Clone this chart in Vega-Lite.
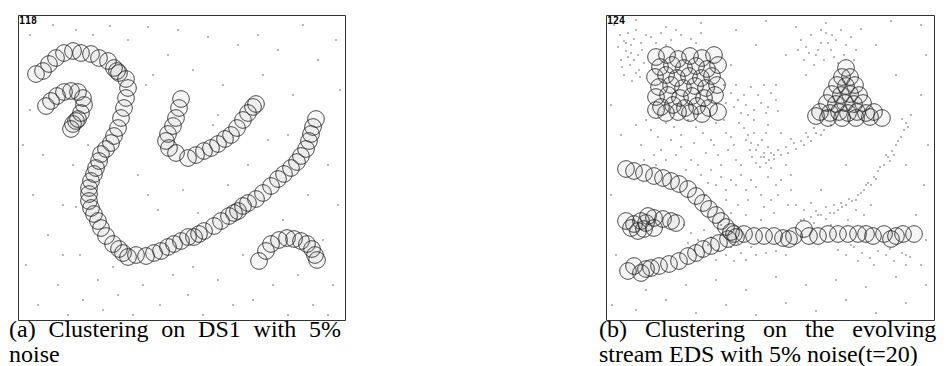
{
  "$schema": "https://vega.github.io/schema/vega-lite/v6.json",
  "padding": {"left": 8, "top": 14, "right": 0, "bottom": 0},
  "autosize": {"type": "pad"},
  "background": "white",
  "spacing": 261,
  "bounds": "flush",
  "config": {
    "view": {"stroke": "#333", "strokeWidth": 1},
    "title": {"orient": "bottom", "anchor": "start", "font": "Liberation Serif", "fontSize": 24, "fontWeight": "normal", "color": "#000", "lineHeight": 25, "baseline": "alphabetic", "offset": -2}
  },
  "datasets": {
    "a_circ": [
      {"x":18,"y":59},{"x":25,"y":56},{"x":31,"y":49},{"x":38,"y":43},{"x":46,"y":38},{"x":55,"y":36},{"x":63,"y":38},{"x":73,"y":39},{"x":81,"y":43},{"x":90,"y":46},{"x":96,"y":53},{"x":99,"y":56},{"x":101,"y":58},{"x":108,"y":64},{"x":110,"y":73},{"x":108,"y":83},{"x":106,"y":93},{"x":103,"y":103},{"x":100,"y":113},{"x":96,"y":121},{"x":93,"y":128},{"x":88,"y":134},{"x":83,"y":139},{"x":81,"y":146},{"x":78,"y":153},{"x":76,"y":159},{"x":73,"y":166},{"x":71,"y":173},{"x":71,"y":179},{"x":71,"y":186},{"x":73,"y":193},{"x":76,"y":199},{"x":80,"y":206},{"x":83,"y":213},{"x":88,"y":221},{"x":95,"y":229},{"x":101,"y":234},{"x":105,"y":238},{"x":110,"y":242},{"x":118,"y":240},{"x":128,"y":241},{"x":136,"y":238},{"x":143,"y":236},{"x":150,"y":232},{"x":156,"y":229},{"x":163,"y":226},{"x":170,"y":222},{"x":176,"y":222},{"x":181,"y":219},{"x":186,"y":216},{"x":196,"y":211},{"x":203,"y":206},{"x":211,"y":201},{"x":216,"y":198},{"x":220,"y":196},{"x":225,"y":191},{"x":230,"y":188},{"x":238,"y":184},{"x":245,"y":178},{"x":253,"y":171},{"x":260,"y":164},{"x":266,"y":159},{"x":273,"y":153},{"x":279,"y":147},{"x":283,"y":141},{"x":288,"y":134},{"x":291,"y":126},{"x":293,"y":119},{"x":295,"y":112},{"x":298,"y":104},
      {"x":28,"y":91},{"x":33,"y":86},{"x":39,"y":81},{"x":46,"y":77},{"x":53,"y":76},{"x":60,"y":77},{"x":65,"y":83},{"x":66,"y":90},{"x":63,"y":98},{"x":60,"y":104},{"x":55,"y":109},{"x":53,"y":114},{"x":58,"y":106},
      {"x":163,"y":84},{"x":161,"y":93},{"x":158,"y":103},{"x":155,"y":111},{"x":150,"y":119},{"x":148,"y":126},{"x":151,"y":133},{"x":158,"y":138},{"x":170,"y":143},{"x":178,"y":140},{"x":186,"y":136},{"x":193,"y":133},{"x":200,"y":129},{"x":207,"y":124},{"x":213,"y":120},{"x":219,"y":113},{"x":225,"y":105},{"x":230,"y":98},{"x":235,"y":92},{"x":238,"y":89},
      {"x":241,"y":246},{"x":248,"y":236},{"x":253,"y":229},{"x":261,"y":225},{"x":269,"y":223},{"x":276,"y":224},{"x":283,"y":226},{"x":289,"y":229},{"x":294,"y":234},{"x":297,"y":240},{"x":299,"y":245}
    ],
    "a_noise": [
      {"x":5,"y":130},{"x":8,"y":250},{"x":12,"y":20},{"x":15,"y":180},{"x":20,"y":290},{"x":25,"y":140},{"x":30,"y":220},{"x":35,"y":10},{"x":40,"y":270},{"x":45,"y":190},{"x":50,"y":300},{"x":55,"y":150},{"x":58,"y":15},{"x":62,"y":240},{"x":65,"y":285},{"x":70,"y":130},{"x":75,"y":20},{"x":80,"y":265},{"x":85,"y":295},{"x":92,"y":11},{"x":128,"y":70},{"x":100,"y":280},{"x":110,"y":25},{"x":115,"y":300},{"x":120,"y":160},{"x":125,"y":270},{"x":130,"y":12},{"x":135,"y":60},{"x":140,"y":195},{"x":142,"y":290},{"x":150,"y":40},{"x":155,"y":260},{"x":160,"y":15},{"x":165,"y":175},{"x":170,"y":280},{"x":175,"y":55},{"x":180,"y":198},{"x":185,"y":300},{"x":190,"y":22},{"x":195,"y":110},{"x":200,"y":265},{"x":205,"y":70},{"x":210,"y":170},{"x":215,"y":290},{"x":220,"y":30},{"x":225,"y":240},{"x":230,"y":150},{"x":235,"y":285},{"x":240,"y":20},{"x":245,"y":60},{"x":250,"y":125},{"x":255,"y":270},{"x":260,"y":35},{"x":265,"y":205},{"x":270,"y":300},{"x":275,"y":80},{"x":280,"y":260},{"x":285,"y":10},{"x":290,"y":180},{"x":295,"y":290},{"x":300,"y":45},{"x":305,"y":225},{"x":310,"y":150},{"x":315,"y":270},{"x":318,"y":25},{"x":320,"y":190},{"x":322,"y":75},{"x":12,"y":95},{"x":58,"y":192},{"x":130,"y":180},{"x":200,"y":100},{"x":270,"y":120},{"x":310,"y":300},{"x":95,"y":252},{"x":175,"y":252},{"x":45,"y":240}
    ],
    "b_circ": [
      {"x":50,"y":42},{"x":61,"y":40},{"x":72,"y":44},{"x":84,"y":41},{"x":96,"y":43},{"x":108,"y":40},
      {"x":54,"y":52},{"x":66,"y":50},{"x":78,"y":53},{"x":90,"y":51},{"x":101,"y":54},{"x":112,"y":50},
      {"x":49,"y":62},{"x":60,"y":60},{"x":71,"y":63},{"x":83,"y":61},{"x":95,"y":63},{"x":106,"y":61},
      {"x":53,"y":72},{"x":65,"y":70},{"x":77,"y":73},{"x":89,"y":71},{"x":100,"y":73},{"x":111,"y":70},
      {"x":50,"y":82},{"x":62,"y":80},{"x":74,"y":83},{"x":86,"y":81},{"x":98,"y":83},{"x":109,"y":80},
      {"x":55,"y":92},{"x":67,"y":90},{"x":79,"y":93},{"x":91,"y":91},{"x":103,"y":93},{"x":112,"y":97},
      {"x":60,"y":98},{"x":84,"y":98},{"x":72,"y":97},{"x":96,"y":99},{"x":50,"y":95},
      {"x":240,"y":53},{"x":236,"y":62},{"x":244,"y":62},{"x":231,"y":70},{"x":240,"y":71},{"x":249,"y":70},{"x":226,"y":79},{"x":235,"y":80},{"x":244,"y":79},{"x":253,"y":80},{"x":221,"y":88},{"x":230,"y":89},{"x":239,"y":88},{"x":248,"y":89},{"x":257,"y":88},{"x":214,"y":97},{"x":224,"y":98},{"x":233,"y":97},{"x":242,"y":98},{"x":251,"y":97},{"x":260,"y":98},{"x":210,"y":101},{"x":222,"y":103},{"x":236,"y":103},{"x":250,"y":103},{"x":264,"y":102},{"x":276,"y":103},{"x":268,"y":97},
      {"x":20,"y":154},{"x":28,"y":156},{"x":38,"y":158},{"x":48,"y":161},{"x":57,"y":163},{"x":65,"y":166},{"x":73,"y":169},{"x":82,"y":174},{"x":90,"y":181},{"x":97,"y":188},{"x":103,"y":194},{"x":110,"y":200},{"x":115,"y":206},{"x":120,"y":212},{"x":125,"y":217},
      {"x":20,"y":206},{"x":25,"y":213},{"x":32,"y":216},{"x":28,"y":209},{"x":35,"y":206},{"x":38,"y":214},{"x":42,"y":201},{"x":48,"y":203},{"x":48,"y":213},{"x":57,"y":204},{"x":65,"y":206},{"x":70,"y":208},{"x":40,"y":208},
      {"x":128,"y":219},{"x":138,"y":219},{"x":148,"y":221},{"x":158,"y":221},{"x":168,"y":221},{"x":177,"y":223},{"x":183,"y":224},{"x":188,"y":221},{"x":198,"y":214},{"x":203,"y":221},{"x":212,"y":221},{"x":222,"y":219},{"x":232,"y":219},{"x":242,"y":219},{"x":252,"y":219},{"x":260,"y":219},{"x":267,"y":221},{"x":278,"y":219},{"x":285,"y":224},{"x":290,"y":221},{"x":297,"y":219},{"x":308,"y":219},
      {"x":22,"y":256},{"x":28,"y":251},{"x":35,"y":258},{"x":40,"y":254},{"x":45,"y":253},{"x":53,"y":251},{"x":63,"y":249},{"x":73,"y":246},{"x":82,"y":241},{"x":90,"y":238},{"x":97,"y":234},{"x":105,"y":231},{"x":113,"y":228},{"x":122,"y":224},{"x":130,"y":222}
    ],
    "b_noise": [
      {"x":8,"y":10},{"x":30,"y":5},{"x":60,"y":12},{"x":95,"y":8},{"x":130,"y":15},{"x":160,"y":6},{"x":190,"y":12},{"x":220,"y":8},{"x":255,"y":14},{"x":285,"y":6},{"x":315,"y":10},
      {"x":5,"y":90},{"x":15,"y":120},{"x":5,"y":180},{"x":10,"y":240},{"x":6,"y":290},{"x":30,"y":295},{"x":60,"y":285},{"x":90,"y":298},{"x":120,"y":290},{"x":150,"y":300},{"x":180,"y":288},{"x":210,"y":296},{"x":240,"y":285},{"x":270,"y":298},{"x":300,"y":288},{"x":320,"y":270},
      {"x":40,"y":275},{"x":80,"y":270},{"x":110,"y":265},{"x":140,"y":275},{"x":170,"y":262},{"x":200,"y":270},{"x":230,"y":265},{"x":260,"y":272},{"x":290,"y":262},{"x":315,"y":250},
      {"x":320,"y":40},{"x":315,"y":80},{"x":322,"y":130},{"x":318,"y":170},{"x":310,"y":200},{"x":300,"y":150},{"x":290,"y":60},{"x":270,"y":30},{"x":180,"y":40},{"x":150,"y":30},{"x":125,"y":50},{"x":170,"y":70},{"x":200,"y":60},{"x":280,"y":140},{"x":260,"y":170},{"x":240,"y":150},{"x":215,"y":175},{"x":300,"y":240},{"x":320,"y":225},
      {"x":14,"y":20},{"x":18,"y":26},{"x":22,"y":18},{"x":25,"y":30},{"x":20,"y":36},{"x":28,"y":24},{"x":32,"y":40},{"x":15,"y":45},{"x":24,"y":50},{"x":30,"y":58},{"x":18,"y":60},{"x":35,"y":28},{"x":38,"y":48},{"x":12,"y":32},{"x":26,"y":66},{"x":34,"y":62},{"x":40,"y":20},{"x":22,"y":42},{"x":30,"y":15},{"x":36,"y":35},{"x":16,"y":52},{"x":28,"y":45},{"x":33,"y":55},{"x":20,"y":28},{"x":25,"y":38},
      {"x":45,"y":22},{"x":55,"y":18},{"x":65,"y":25},{"x":75,"y":20},{"x":85,"y":24},{"x":95,"y":18},{"x":50,"y":28},{"x":70,"y":15},{"x":90,"y":28},{"x":60,"y":30},
      {"x":118,"y":70},{"x":125,"y":78},{"x":132,"y":85},{"x":140,"y":90},{"x":148,"y":95},{"x":155,"y":88},{"x":162,"y":92},{"x":170,"y":85},{"x":128,"y":92},{"x":138,"y":80},{"x":145,"y":72},{"x":152,"y":80},{"x":160,"y":98},{"x":120,"y":88},{"x":135,"y":98},{"x":165,"y":78},{"x":172,"y":96},{"x":142,"y":100},{"x":130,"y":70},{"x":158,"y":70},
      {"x":195,"y":25},{"x":200,"y":32},{"x":205,"y":20},{"x":210,"y":40},{"x":215,"y":28},{"x":220,"y":18},{"x":225,"y":35},{"x":230,"y":25},{"x":235,"y":15},{"x":240,"y":30},{"x":245,"y":22},{"x":250,"y":35},{"x":198,"y":45},{"x":208,"y":50},{"x":218,"y":45},{"x":228,"y":42},{"x":212,"y":35},{"x":203,"y":38},{"x":222,"y":28},{"x":238,"y":40},{"x":248,"y":45},{"x":192,"y":35},{"x":215,"y":15},{"x":232,"y":48},{"x":226,"y":20},
      {"x":138,"y":113},{"x":142,"y":120},{"x":145,"y":128},{"x":150,"y":135},{"x":155,"y":142},{"x":160,"y":148},{"x":165,"y":153},{"x":140,"y":125},{"x":148,"y":118},{"x":152,"y":130},{"x":158,"y":138},{"x":163,"y":145},{"x":144,"y":135},{"x":156,"y":125},{"x":150,"y":148},{"x":162,"y":132},{"x":168,"y":140},{"x":146,"y":142},{"x":154,"y":152},{"x":160,"y":118},
      {"x":30,"y":110},{"x":45,"y":115},{"x":60,"y":108},{"x":75,"y":120},{"x":90,"y":112},{"x":105,"y":125},{"x":120,"y":118},{"x":35,"y":130},{"x":55,"y":135},{"x":70,"y":140},{"x":85,"y":145},{"x":100,"y":138},{"x":115,"y":150},{"x":130,"y":145},{"x":50,"y":150},{"x":65,"y":125},{"x":95,"y":160},{"x":110,"y":170},{"x":125,"y":165},{"x":140,"y":175},{"x":155,"y":180},{"x":170,"y":170},{"x":80,"y":155},{"x":120,"y":185},{"x":100,"y":180},{"x":135,"y":160},{"x":60,"y":145},{"x":88,"y":128},{"x":112,"y":140},{"x":128,"y":130},{"x":145,"y":165},{"x":165,"y":185},{"x":175,"y":165},{"x":105,"y":155},{"x":120,"y":175},
      {"x":40,"y":105},{"x":52,"y":122},{"x":68,"y":112},{"x":82,"y":105},{"x":97,"y":118},{"x":110,"y":108},{"x":125,"y":122},{"x":38,"y":145},{"x":48,"y":140},{"x":75,"y":132},{"x":102,"y":168},{"x":115,"y":162},{"x":130,"y":170},{"x":142,"y":185},{"x":158,"y":192},{"x":172,"y":180},{"x":125,"y":198},{"x":140,"y":200},{"x":155,"y":205},{"x":168,"y":198},{"x":182,"y":190},{"x":185,"y":175},{"x":92,"y":150},{"x":108,"y":130},{"x":122,"y":135},{"x":135,"y":150},{"x":118,"y":105},{"x":133,"y":108},{"x":148,"y":105},{"x":162,"y":110},{"x":175,"y":118},{"x":180,"y":150},{"x":185,"y":160},{"x":132,"y":190},{"x":150,"y":172},{"x":162,"y":162},
      {"x":225,"y":110},{"x":218,"y":115},{"x":210,"y":118},{"x":202,"y":122},{"x":195,"y":126},{"x":188,"y":128},{"x":180,"y":132},{"x":172,"y":135},{"x":165,"y":138},{"x":158,"y":142},{"x":215,"y":120},{"x":205,"y":126},{"x":198,"y":130},{"x":190,"y":134},{"x":182,"y":138},{"x":175,"y":140},{"x":168,"y":144},{"x":200,"y":118},{"x":185,"y":124},{"x":208,"y":113},
      {"x":305,"y":100},{"x":300,"y":108},{"x":298,"y":115},{"x":295,"y":122},{"x":290,"y":130},{"x":286,"y":136},{"x":282,"y":142},{"x":278,"y":150},{"x":272,"y":156},{"x":268,"y":162},{"x":262,"y":168},{"x":258,"y":175},{"x":252,"y":180},{"x":246,"y":186},{"x":240,"y":190},{"x":232,"y":195},{"x":224,"y":198},{"x":215,"y":200},{"x":205,"y":202},{"x":198,"y":204},{"x":302,"y":112},{"x":292,"y":126},{"x":284,"y":146},{"x":274,"y":152},{"x":265,"y":170},{"x":255,"y":178},{"x":243,"y":184},{"x":236,"y":192},{"x":228,"y":190},{"x":210,"y":196},{"x":296,"y":104},{"x":288,"y":140},{"x":270,"y":164},{"x":250,"y":185},{"x":220,"y":204},
      {"x":190,"y":190},{"x":198,"y":195},{"x":205,"y":188},{"x":212,"y":200},{"x":220,"y":192},{"x":228,"y":198},{"x":235,"y":188},{"x":242,"y":205},{"x":250,"y":195},{"x":258,"y":200},{"x":265,"y":190},{"x":195,"y":205},{"x":208,"y":208},{"x":225,"y":210},
      {"x":232,"y":235},{"x":240,"y":240},{"x":248,"y":232},{"x":256,"y":238},{"x":264,"y":243},{"x":272,"y":236},{"x":280,"y":240},{"x":288,"y":246},{"x":296,"y":238},{"x":304,"y":242},{"x":252,"y":246},{"x":268,"y":250},{"x":284,"y":234},{"x":300,"y":250},{"x":245,"y":230},
      {"x":78,"y":210},{"x":85,"y":218},{"x":92,"y":225},{"x":98,"y":215},{"x":105,"y":222},{"x":112,"y":235},{"x":120,"y":240},{"x":128,"y":246},{"x":135,"y":238},{"x":88,"y":235},{"x":95,"y":242},{"x":102,"y":230},{"x":115,"y":210},{"x":125,"y":232},{"x":82,"y":228},{"x":110,"y":245},{"x":132,"y":228},{"x":140,"y":245},{"x":150,"y":240},{"x":160,"y":238},{"x":170,"y":236},{"x":180,"y":240},{"x":145,"y":232}
    ]
  },
  "hconcat": [
    {
      "width": 327,
      "height": 305,
      "title": {"text": ["(a) \u2009\u200aClustering \u2009\u200aon \u2009\u200aDS1 \u2009\u200awith \u2009\u200a5%", "noise"], "dx": -9},
      "layer": [
        {
          "data": {"name": "a_noise"},
          "mark": {"type": "square", "size": 2, "color": "#777", "opacity": 1},
          "encoding": {
            "x": {"field": "x", "type": "quantitative", "scale": {"domain": [0, 327], "nice": false}, "axis": null},
            "y": {"field": "y", "type": "quantitative", "scale": {"domain": [0, 305], "nice": false, "reverse": true}, "axis": null}
          }
        },
        {
          "data": {"name": "a_circ"},
          "mark": {"type": "circle", "size": 280, "fill": "#000", "fillOpacity": 0.035, "stroke": "#222", "strokeWidth": 0.8, "opacity": 1},
          "encoding": {
            "x": {"field": "x", "type": "quantitative"},
            "y": {"field": "y", "type": "quantitative"}
          }
        },
        {
          "data": {"values": [{"x": 1, "y": 1, "t": "118"}]},
          "mark": {"type": "text", "align": "left", "baseline": "top", "font": "DejaVu Sans Mono", "fontWeight": "bold", "fontSize": 10, "color": "#000"},
          "encoding": {
            "x": {"field": "x", "type": "quantitative"},
            "y": {"field": "y", "type": "quantitative"},
            "text": {"field": "t"}
          }
        }
      ]
    },
    {
      "width": 328,
      "height": 305,
      "title": {"text": ["(b) \u00a0\u00a0Clustering \u00a0\u00a0on \u00a0\u00a0the \u00a0\u00a0evolving", "stream EDS with 5% noise(t=20)"], "dx": -7},
      "layer": [
        {
          "data": {"name": "b_noise"},
          "mark": {"type": "square", "size": 2, "color": "#777", "opacity": 1},
          "encoding": {
            "x": {"field": "x", "type": "quantitative", "scale": {"domain": [0, 328], "nice": false}, "axis": null},
            "y": {"field": "y", "type": "quantitative", "scale": {"domain": [0, 305], "nice": false, "reverse": true}, "axis": null}
          }
        },
        {
          "data": {"name": "b_circ"},
          "mark": {"type": "circle", "size": 280, "fill": "#000", "fillOpacity": 0.035, "stroke": "#222", "strokeWidth": 0.8, "opacity": 1},
          "encoding": {
            "x": {"field": "x", "type": "quantitative"},
            "y": {"field": "y", "type": "quantitative"}
          }
        },
        {
          "data": {"values": [{"x": 1, "y": 1, "t": "124"}]},
          "mark": {"type": "text", "align": "left", "baseline": "top", "font": "DejaVu Sans Mono", "fontWeight": "bold", "fontSize": 10, "color": "#000"},
          "encoding": {
            "x": {"field": "x", "type": "quantitative"},
            "y": {"field": "y", "type": "quantitative"},
            "text": {"field": "t"}
          }
        }
      ]
    }
  ]
}
